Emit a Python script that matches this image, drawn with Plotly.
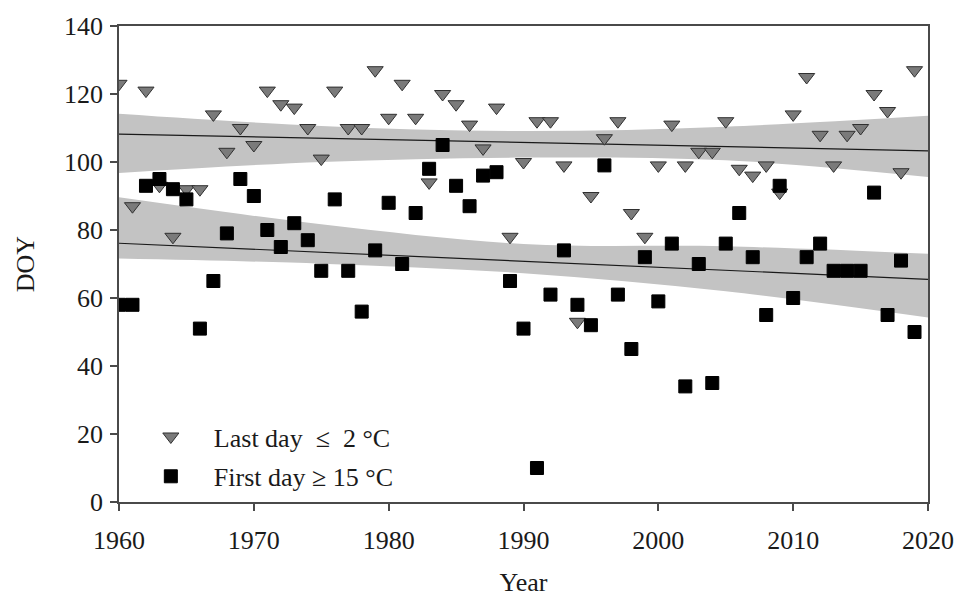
import numpy as np
import plotly.graph_objects as go

years = list(range(1960, 2020))

last_day_le2 = [123, 87, 121, 93, 78, 92, 92, 114, 103, 110,
                105, 121, 117, 116, 110, 101, 121, 110, 110, 127,
                113, 123, 113, 94, 120, 117, 111, 104, 116, 78,
                100, 112, 112, 99, 53, 90, 107, 112, 85, 78,
                99, 111, 99, 103, 103, 112, 98, 96, 99, 91,
                114, 125, 108, 99, 108, 110, 120, 115, 97, 127]

first_day_ge15 = [58, 58, 93, 95, 92, 89, 51, 65, 79, 95,
                  90, 80, 75, 82, 77, 68, 89, 68, 56, 74,
                  88, 70, 85, 98, 105, 93, 87, 96, 97, 65,
                  51, 10, 61, 74, 58, 52, 99, 61, 45, 72,
                  59, 76, 34, 70, 35, 76, 85, 72, 55, 93,
                  60, 72, 76, 68, 68, 68, 91, 55, 71, 50]

# trend lines and confidence bands
trend_years = [1960, 2020]
trend_last = [108.2, 103.3]
trend_first = [76.1, 65.5]

band_years = [1960, 1975, 1990, 2005, 2020]
band_last_hi = [114.2, 110.6, 109.1, 110.4, 113.6]
band_last_lo = [96.8, 100.0, 101.3, 100.5, 95.6]
band_first_hi = [89.6, 81.7, 75.9, 75.2, 73.0]
band_first_lo = [71.6, 70.1, 67.3, 62.0, 54.3]

x_ticks = [1960, 1970, 1980, 1990, 2000, 2010, 2020]
y_ticks = [0, 20, 40, 60, 80, 100, 120, 140]

FONT = "Liberation Serif"
FS = 26
BAND = "#c3c3c3"

fig = go.Figure()

for lo, hi in ((band_last_lo, band_last_hi), (band_first_lo, band_first_hi)):
    fig.add_trace(go.Scatter(
        x=band_years, y=lo, mode="lines",
        line=dict(width=0, shape="spline", smoothing=1.0),
        showlegend=False, hoverinfo="skip"))
    fig.add_trace(go.Scatter(
        x=band_years, y=hi, mode="lines", fill="tonexty", fillcolor=BAND,
        line=dict(width=0, shape="spline", smoothing=1.0),
        showlegend=False, hoverinfo="skip"))

for trend in (trend_last, trend_first):
    fig.add_trace(go.Scatter(
        x=trend_years, y=trend, mode="lines",
        line=dict(color="#1a1a1a", width=1.2),
        showlegend=False, hoverinfo="skip"))

fig.add_trace(go.Scatter(
    x=years, y=last_day_le2, mode="markers",
    name="\u00a0\u00a0Last day\u00a0 \u2264\u00a0 2 \u00b0C", legendgroup="a",
    marker=dict(symbol="triangle-down", size=14, color="#7a7a7a",
                line=dict(color="#303030", width=1))))
fig.add_trace(go.Scatter(
    x=years, y=first_day_ge15, mode="markers",
    name="\u00a0\u00a0First day \u2265 15 \u00b0C", legendgroup="b",
    marker=dict(symbol="square", size=13, color="#000000",
                line=dict(color="#000000", width=1))))

axis_common = dict(
    showgrid=False, zeroline=False, showline=True, linecolor="#4a4a4a",
    linewidth=1.5, ticks="outside", ticklen=7, tickwidth=1.5,
    tickcolor="#4a4a4a", mirror=True,
    tickfont=dict(family=FONT, size=FS, color="#1a1a1a"))

fig.update_layout(
    width=968, height=604,
    margin=dict(l=119, r=40, t=18, b=101),
    paper_bgcolor="white", plot_bgcolor="white",
    font=dict(family=FONT, size=FS, color="#1a1a1a"),
    xaxis=dict(range=[1960, 2020], tickvals=x_ticks, ticklabelstandoff=7,
               title=dict(text="Year", standoff=19,
                          font=dict(family=FONT, size=FS, color="#1a1a1a")),
               **axis_common),
    yaxis=dict(range=[0, 140], tickvals=y_ticks, ticklabelstandoff=2,
               title=dict(text="DOY", standoff=22,
                          font=dict(family=FONT, size=FS, color="#1a1a1a")),
               **axis_common),
    legend=dict(x=0.027, y=0.004, xanchor="left", yanchor="bottom",
                bgcolor="rgba(0,0,0,0)", tracegroupgap=3, itemwidth=50,
                font=dict(family=FONT, size=FS, color="#1a1a1a")),
    showlegend=True,
)

fig.write_html("out.html")
